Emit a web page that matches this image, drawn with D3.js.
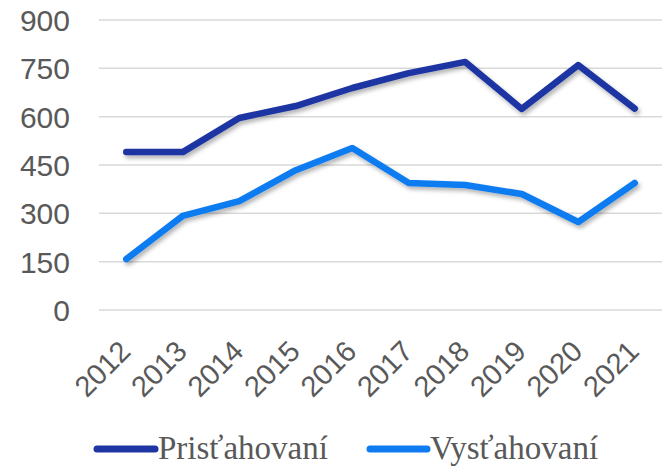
<!DOCTYPE html>
<html><head><meta charset="utf-8">
<script src="https://cdn.jsdelivr.net/npm/d3@7"></script>
<style>body{margin:0;background:#fff}svg{display:block}</style>
</head><body><svg id="c" width="662" height="466"></svg>
<script>
const years = ["2012","2013","2014","2015","2016","2017","2018","2019","2020","2021"];
const prist = [490, 490, 596, 633, 689, 735, 770, 624, 760, 625];
const vyst = [158, 292, 338, 434, 503, 394, 388, 360, 273, 394];
const seriesNames = ["Prisťahovaní", "Vysťahovaní"];
const seriesColors = ["#1f35a3", "#0e7bf0"];
const yTicks = [0, 150, 300, 450, 600, 750, 900];

const svg = d3.select("#c");
const x = d3.scaleBand().domain(years).range([98, 663]);
const y = d3.scaleLinear().domain([0, 900]).range([310, 20]);

const defs = svg.append("defs");
const f = defs.append("filter").attr("id","sh").attr("x","-10%").attr("y","-10%").attr("width","130%").attr("height","140%");
f.append("feDropShadow").attr("dx",2).attr("dy",3).attr("stdDeviation",2).attr("flood-color","#000").attr("flood-opacity",0.3);

// grid
svg.append("g").selectAll("line").data(yTicks).join("line")
  .attr("x1", 99).attr("x2", 662)
  .attr("y1", d => y(d)).attr("y2", d => y(d))
  .attr("stroke", "#d9d9d9").attr("stroke-width", 1.5);

// y axis
const ya = svg.append("g").attr("transform","translate(70,0)")
  .call(d3.axisLeft(y).tickValues(yTicks).tickSize(0).tickPadding(0));
ya.select(".domain").remove();
ya.selectAll("text").attr("font-family","'Liberation Sans', Arial, sans-serif")
  .attr("font-size", 30).attr("fill","#595959").attr("dy","0.35em");

// x axis
const xa = svg.append("g").attr("transform","translate(0,310)")
  .call(d3.axisBottom(x).tickSize(0).tickPadding(0));
xa.select(".domain").remove();
xa.selectAll("text")
  .attr("font-family","'Liberation Sans', Arial, sans-serif")
  .attr("font-size", 29).attr("fill","#595959")
  .attr("text-anchor","end").attr("dy", 0).attr("y", 0)
  .attr("transform","translate(6,43) rotate(-45)");

// lines
const line = d3.line().x((d,i) => x(years[i]) + x.bandwidth()/2).y(d => y(d));
[prist, vyst].forEach((s, k) => {
  svg.append("path").datum(s).attr("d", line)
    .attr("fill","none").attr("stroke", seriesColors[k]).attr("stroke-width", 6.5)
    .attr("stroke-linecap","round").attr("stroke-linejoin","round")
    .attr("filter","url(#sh)");
});

// legend
const leg = [{x1:97,x2:155,tx:158},{x1:370,x2:427,tx:430}];
leg.forEach((l,k) => {
  svg.append("line").attr("x1",l.x1).attr("x2",l.x2).attr("y1",449).attr("y2",449)
    .attr("stroke",seriesColors[k]).attr("stroke-width",7).attr("stroke-linecap","round");
  svg.append("text").attr("x",l.tx).attr("y",459).text(seriesNames[k])
    .attr("font-family","'Liberation Serif', 'DejaVu Serif', serif").attr("font-size",33).attr("fill","#595959");
});
</script></body></html>
